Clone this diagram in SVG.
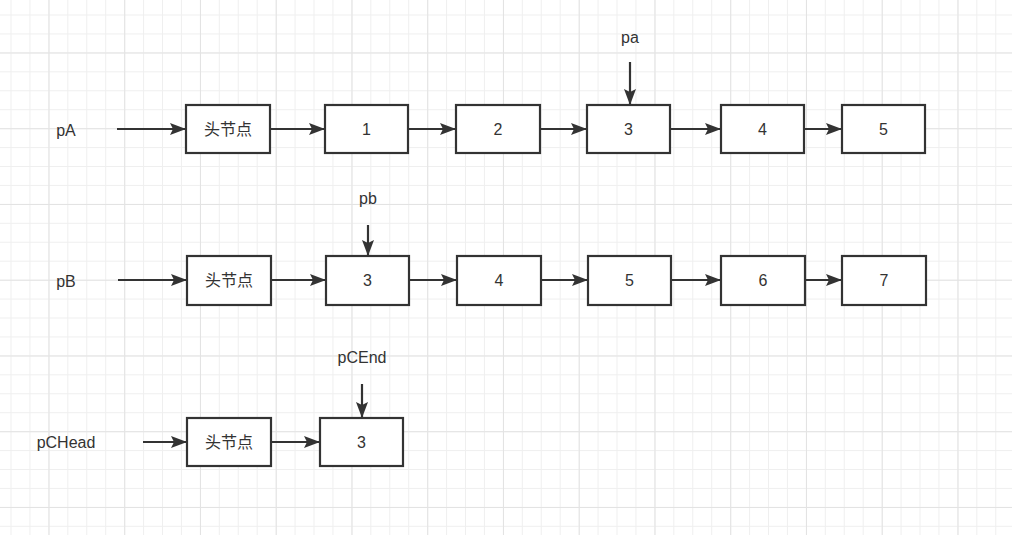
<svg xmlns="http://www.w3.org/2000/svg" width="1012" height="535" viewBox="0 0 1012 535">
<defs>
<pattern id="minor" x="10.5" y="14.5" width="18.9375" height="18.9375" patternUnits="userSpaceOnUse">
<rect x="0" y="0" width="1" height="18.9375" fill="#efefef"/>
<rect x="0" y="0" width="18.9375" height="1" fill="#efefef"/>
</pattern>
<pattern id="major" x="48.5" y="52.5" width="75.75" height="75.75" patternUnits="userSpaceOnUse">
<rect x="0" y="0" width="1" height="75.75" fill="#e3e3e3"/>
<rect x="0" y="0" width="75.75" height="1" fill="#e3e3e3"/>
</pattern>
<marker id="arr" markerUnits="userSpaceOnUse" markerWidth="16" markerHeight="12" refX="16" refY="6" orient="auto">
<path d="M0 0L16 6L0 12L3 6Z" fill="#333"/>
</marker>
<style>
.box{fill:#fff;stroke:#333;stroke-width:2.2}
.t{font-family:"Liberation Sans","Noto Sans CJK SC",sans-serif;font-size:16px;fill:#333;text-anchor:middle;dominant-baseline:central}
.c{fill:none;stroke:#333;stroke-width:2.2;marker-end:url(#arr)}
</style>
</defs>
<rect width="1012" height="535" fill="#fff"/>
<rect width="1012" height="535" fill="url(#minor)"/>
<rect width="1012" height="535" fill="url(#major)"/>

<g id="labels">
<text class="t" x="66" y="130">pA</text>
<text class="t" x="66" y="281">pB</text>
<text class="t" x="66" y="442">pCHead</text>
<text class="t" x="630" y="37">pa</text>
<text class="t" x="368" y="198">pb</text>
<text class="t" x="362" y="357">pCEnd</text>
</g>

<g id="connectors">
<path class="c" d="M117 129H186"/>
<path class="c" d="M270 129H325"/>
<path class="c" d="M408 129H456"/>
<path class="c" d="M540 129H587"/>
<path class="c" d="M670 129H721"/>
<path class="c" d="M804 129H842"/>
<path class="c" d="M630 62V105"/>
<path class="c" d="M118 280H187"/>
<path class="c" d="M271 280H326"/>
<path class="c" d="M409 280H457"/>
<path class="c" d="M541 280H588"/>
<path class="c" d="M671 280H721"/>
<path class="c" d="M805 280H842"/>
<path class="c" d="M368 225V256"/>
<path class="c" d="M143 442H187"/>
<path class="c" d="M271 442H320"/>
<path class="c" d="M362 384V418"/>
</g>

<g id="a0"><rect class="box" x="186" y="105" width="84" height="48"/><text class="t" x="228" y="129">头节点</text></g>
<g id="a1"><rect class="box" x="325" y="105" width="83" height="48"/><text class="t" x="366.5" y="129">1</text></g>
<g id="a2"><rect class="box" x="456" y="105" width="84" height="48"/><text class="t" x="498" y="129">2</text></g>
<g id="a3"><rect class="box" x="587" y="105" width="83" height="48"/><text class="t" x="628.5" y="129">3</text></g>
<g id="a4"><rect class="box" x="721" y="105" width="83" height="48"/><text class="t" x="762.5" y="129">4</text></g>
<g id="a5"><rect class="box" x="842" y="105" width="83" height="48"/><text class="t" x="883.5" y="129">5</text></g>

<g id="b0"><rect class="box" x="187" y="256" width="84" height="49"/><text class="t" x="229" y="280">头节点</text></g>
<g id="b1"><rect class="box" x="326" y="256" width="83" height="49"/><text class="t" x="367.5" y="280">3</text></g>
<g id="b2"><rect class="box" x="457" y="256" width="84" height="49"/><text class="t" x="499" y="280">4</text></g>
<g id="b3"><rect class="box" x="588" y="256" width="83" height="49"/><text class="t" x="629.5" y="280">5</text></g>
<g id="b4"><rect class="box" x="721" y="256" width="84" height="49"/><text class="t" x="763" y="280">6</text></g>
<g id="b5"><rect class="box" x="842" y="256" width="84" height="49"/><text class="t" x="884" y="280">7</text></g>

<g id="c0"><rect class="box" x="187" y="418" width="84" height="48"/><text class="t" x="229" y="442">头节点</text></g>
<g id="c1"><rect class="box" x="320" y="418" width="83" height="48"/><text class="t" x="361.5" y="442">3</text></g>
</svg>
